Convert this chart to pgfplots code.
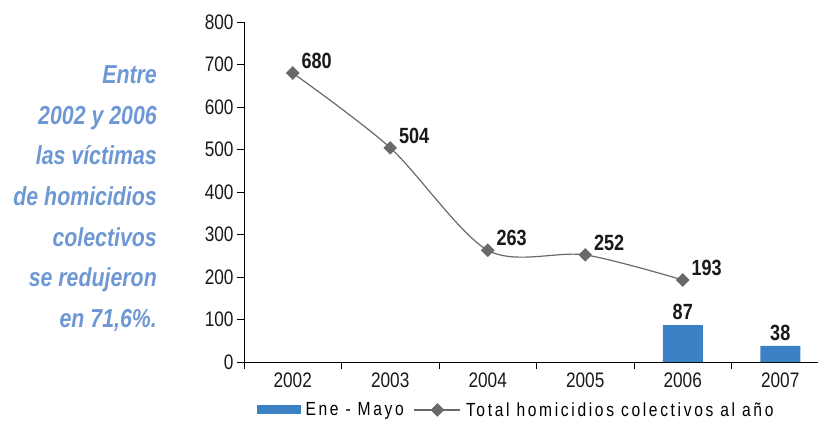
\documentclass[border=0pt]{standalone}
\usepackage{fontspec}
\setmainfont{Liberation Sans}[FakeStretch=0.82]
\usepackage{pgfplots}
\pgfplotsset{compat=1.18}
\definecolor{barblue}{RGB}{60,128,198}
\definecolor{linegray}{RGB}{105,105,105}
\definecolor{noteblue}{RGB}{110,152,212}

\begin{document}
\begin{tikzpicture}
\begin{axis}[
    name=ax, at={(0,0)}, anchor=south west,
    scale only axis, width=585pt, height=340pt,
    xmin=2001.5, xmax=2007.5, ymin=0, ymax=800,
    axis x line*=bottom, axis y line*=left,
    axis line style={black, line width=0.8pt, -},
    xtick={2001.5,2002.5,2003.5,2004.5,2005.5,2006.5,2007.5},
    x tick label as interval,
    xticklabels={2002,2003,2004,2005,2006,2007,{}},
    ytick={0,100,...,800},
    tick align=outside, major tick length=7pt,
    tick style={black, line width=0.8pt},
    tick label style={font=\fontsize{21}{24}\selectfont, text=black!90},
    /pgf/number format/assume math mode=true,
    legend style={at={(axis description cs:0.465,-0.141)}, anchor=center,
        draw=none, fill=none, legend columns=2,
        font=\fontsize{19}{22}\selectfont\addfontfeatures{LetterSpace=14},
        /tikz/every even column/.append style={column sep=8pt},
        /tikz/every odd column/.append style={column sep=3pt}},
]
% Ene - Mayo
\addplot[ybar, bar width=40pt, fill=barblue, draw=none,
    nodes near coords,
    nodes near coords style={font=\fontsize{22}{24}\selectfont\bfseries, text=black!90, yshift=2pt},
    legend image code/.code={\fill[barblue] (0pt,-4.5pt) rectangle (44pt,4.5pt);}]
    coordinates {(2006,87)(2007,38)};
\addlegendentry{Ene - Mayo}
% Total al año
\addplot[linegray, line width=1.2pt, smooth, tension=0.5,
    mark=square*, mark size=4.2pt,
    mark options={rotate=45, fill=linegray, draw=linegray, solid},
    nodes near coords,
    nodes near coords style={anchor=west, xshift=5pt, yshift=12pt,
        font=\fontsize{22}{24}\selectfont\bfseries, text=black!90},
    legend image code/.code={
        \draw[linegray, line width=1.2pt] (0pt,0pt) -- (46pt,0pt);
        \fill[linegray] (23pt,6pt) -- (29pt,0pt) -- (23pt,-6pt) -- (17pt,0pt) -- cycle;}]
    coordinates {(2002,680)(2003,504)(2004,263)(2005,252)(2006,193)};
\addlegendentry{Total homicidios colectivos al año}
\end{axis}
\foreach \t [count=\i] in {Entre,2002 y 2006,las víctimas,de homicidios,colectivos,se redujeron,{en 71,6\%.}}
    \node[anchor=base east, inner sep=0pt, text=noteblue,
        font=\fontsize{26}{30}\selectfont\bfseries\itshape]
        at ([shift={(-87pt,{278pt-40.5pt*(\i-1)})}]ax.south west) {\t};
\pgfresetboundingbox
\path ([shift={(-244pt,-61pt)}]ax.south west) rectangle ([shift={(574pt,362pt)}]ax.south west);
\end{tikzpicture}
\end{document}
